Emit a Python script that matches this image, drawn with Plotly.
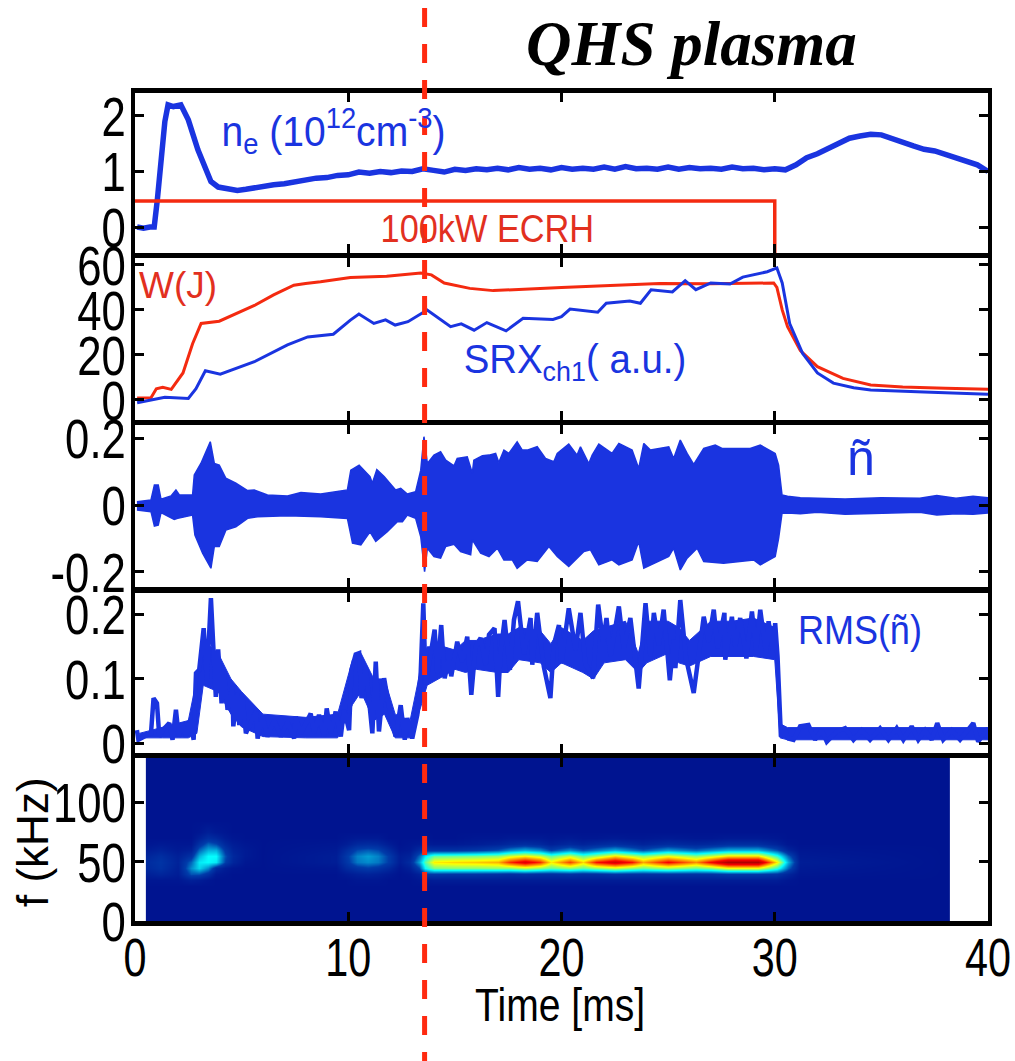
import plotly.graph_objects as go

# ---------- data ----------
ne_t = [0.1,0.4,0.7,0.9,1.05,1.2,1.4,1.55,1.8,2.15,2.5,2.95,3.25,3.56,3.9,4.35,4.8,5.2,5.6,6,6.5,7,7.5,8,8.5,9,9.5,10,10.5,11,11.5,12,12.5,13,13.5,14,14.5,15,15.5,16,16.5,17,17.5,18,18.5,19,19.5,20,20.5,21,21.5,22,22.5,23,23.5,24,24.5,25,25.5,26,26.5,27,27.5,28,28.5,29,29.5,30,30.5,31,31.5,32,32.5,33,33.5,34,34.5,35,35.3,35.8,36.5,37,37.5,38,38.5,39,39.5,40]
ne_v = [0.0,-0.02,0.0,0.0,0.5,1.2,1.9,2.2,2.17,2.2,1.93,1.39,1.08,0.82,0.72,0.68,0.66,0.68,0.71,0.73,0.76,0.78,0.82,0.84,0.88,0.89,0.93,0.94,0.99,0.97,1.0,0.98,1.01,1.0,1.05,1.02,0.99,1.04,1.02,1.05,1.03,1.06,1.03,1.07,1.04,1.06,1.03,1.07,1.04,1.06,1.04,1.08,1.04,1.09,1.05,1.06,1.04,1.08,1.04,1.07,1.05,1.06,1.04,1.08,1.05,1.06,1.03,1.05,1.03,1.12,1.25,1.32,1.42,1.52,1.6,1.64,1.67,1.66,1.62,1.53,1.46,1.4,1.37,1.31,1.25,1.2,1.12,1.0]
ecrh_t = [0, 30, 30]
ecrh_v = [0.47, 0.47, -0.47]

w_t = [0.1,0.75,1.0,1.3,1.7,2.25,2.7,3.1,3.95,4.8,5.6,6.5,7.45,8.0,8.7,10.1,11.8,13.4,13.9,14.5,15.7,16.8,18.0,20.0,22.0,24.6,27.0,29.95,30.1,30.35,30.6,31.2,32.0,33.2,34.5,36.0,38.0,40.0]
w_v = [0.9,1.0,5.0,5.6,4.7,12,25,34,35,38.5,42,46.7,51,51.8,52.5,54.4,55,56.4,55.6,52,49.6,48.6,49,50,50.8,51.8,51.6,52,50,40,32.6,22,14.8,9.6,6.7,5.8,5.2,4.8]
srx_t = [0.1,1.4,2.5,2.86,3.3,4.0,5.6,7.15,8.1,9.3,10.1,10.5,11.2,11.75,12.2,12.8,13.7,14.8,15.3,15.9,16.5,17.4,18.2,19.6,20.0,20.4,21.7,22.1,23.2,23.7,24.2,25.2,25.8,26.3,27.0,27.9,28.5,29.65,30.1,30.35,30.7,31.3,32.0,32.75,33.7,34.5,37.0,40.0]
srx_v = [-1.2,1.2,0.7,5,13,11.5,17,24.5,28,29.2,35.5,38.2,34,35.6,33.3,34.8,40,32.6,33.8,31,34.4,30.7,36.3,35.8,37,40.4,39,43,44,43,49,48,53,49,52,51.5,54.6,57,58.7,52,34,20.8,12,7.5,5.4,4.4,3.5,2.5]

nt_up_t = [0.09,0.75,0.91,1.09,1.22,1.69,1.92,2.08,2.70,2.78,3.09,3.53,3.72,3.95,4.26,4.73,5.28,5.59,6.21,7.15,7.78,8.71,9.96,10.12,10.51,11.02,11.13,11.34,11.68,12.22,12.46,12.77,13.16,13.40,13.55,13.71,14.02,14.33,14.57,14.96,15.11,15.58,15.82,15.89,16.29,16.6,16.91,17.06,17.3,17.53,17.92,18.16,18.39,18.86,19.25,19.64,19.8,20.34,20.73,20.89,21.28,21.44,21.75,22.06,22.37,22.69,23.31,23.62,23.86,24.17,25.03,25.26,25.57,25.89,26.2,26.67,27.21,27.53,27.92,28.85,29.32,30.02,30.18,30.34,30.6,31.2,32.0,33.3,35.0,36.8,37.6,38.5,39.3,40.0]
nt_up_v = [0.01,0.015,0.06,0.06,0.017,0.027,0.045,0.03,0.03,0.09,0.124,0.189,0.124,0.119,0.08,0.065,0.043,0.045,0.03,0.027,0.037,0.033,0.045,0.104,0.119,0.085,0.065,0.106,0.085,0.045,0.05,0.033,0.04,0.104,0.204,0.124,0.149,0.159,0.134,0.117,0.139,0.144,0.095,0.134,0.147,0.149,0.154,0.127,0.164,0.154,0.189,0.164,0.164,0.174,0.139,0.129,0.154,0.182,0.149,0.174,0.124,0.149,0.182,0.167,0.154,0.184,0.164,0.109,0.184,0.164,0.174,0.139,0.194,0.154,0.121,0.169,0.179,0.169,0.169,0.169,0.179,0.154,0.119,0.03,0.026,0.022,0.02,0.018,0.022,0.02,0.028,0.02,0.026,0.022]
nt_lo_t = [0.09,0.75,0.91,1.09,1.22,1.84,2.0,2.7,2.81,3.17,3.56,3.72,3.95,4.26,4.73,5.28,5.75,7.15,8.71,9.96,10.2,10.59,11.02,11.29,11.83,12.3,12.54,12.77,13.16,13.4,13.58,13.71,14.02,14.33,14.57,14.96,15.27,15.74,15.82,16.21,16.6,16.99,17.3,17.69,17.92,18.39,18.86,19.41,19.8,20.34,20.81,21.05,21.36,21.75,22.37,22.69,23.31,23.62,23.86,25.03,25.26,25.57,25.89,26.36,26.67,27.6,29.01,29.32,30.02,30.18,30.34,30.6,31.2,32.0,33.3,35.0,36.8,37.6,38.5,39.3,40.0]
nt_lo_v = [-0.015,-0.02,-0.063,-0.06,-0.023,-0.043,-0.04,-0.03,-0.09,-0.144,-0.189,-0.124,-0.124,-0.075,-0.065,-0.04,-0.035,-0.032,-0.035,-0.04,-0.114,-0.119,-0.08,-0.109,-0.08,-0.05,-0.05,-0.03,-0.04,-0.095,-0.199,-0.129,-0.154,-0.159,-0.124,-0.117,-0.139,-0.149,-0.104,-0.144,-0.154,-0.129,-0.164,-0.164,-0.189,-0.164,-0.169,-0.124,-0.154,-0.184,-0.154,-0.139,-0.134,-0.179,-0.164,-0.179,-0.164,-0.109,-0.189,-0.154,-0.129,-0.194,-0.159,-0.129,-0.169,-0.174,-0.164,-0.179,-0.154,-0.1,-0.025,-0.024,-0.026,-0.022,-0.028,-0.024,-0.022,-0.03,-0.026,-0.028,-0.024]

rms_t = [0.09,0.16,0.44,0.75,0.87,1.03,1.14,1.30,1.61,1.76,1.92,2.05,2.23,2.39,2.59,2.75,2.86,3.01,3.22,3.37,3.56,3.68,3.79,3.90,4.06,4.18,4.34,4.57,4.61,4.81,4.89,5.04,5.2,5.67,5.75,5.98,6.21,6.53,6.84,7.15,7.46,7.54,7.78,8.24,8.4,8.63,8.87,8.99,9.18,9.41,9.65,9.8,10.04,10.15,10.35,10.51,10.62,10.82,10.98,11.13,11.29,11.44,11.68,11.91,12.22,12.46,12.65,12.77,13.0,13.24,13.4,13.52,13.63,13.86,14.05,14.18,14.36,14.52,14.72,14.83,15.11,15.35,15.58,15.77,15.97,16.21,16.44,16.6,16.86,17.03,17.14,17.33,17.58,17.77,17.96,18.24,18.55,18.63,18.86,19.17,19.48,19.64,19.88,19.99,20.34,20.66,20.89,21.12,21.48,21.72,21.95,22.11,22.3,22.69,22.92,23.23,23.62,23.94,24.17,24.33,24.56,24.79,25.08,25.26,25.34,25.57,25.84,26.2,26.67,26.9,27.14,27.32,27.64,27.68,27.99,28.15,28.38,28.67,28.93,29.13,29.32,29.59,29.71,29.91,30.02,30.13,30.29,30.49,30.65,30.88,31.19,31.58,31.89,32.2,32.44,32.91,33.3,33.69,34.08,34.47,34.94,35.33,35.72,36.03,36.42,36.73,37.05,37.36,37.62,37.9,38.3,38.69,39.31,39.54,40.0]
rms_v = [0.020,0.005,0.010,0.015,0.070,0.062,0.010,0.020,0.031,0.005,0.052,0.010,0.031,0.010,0.036,0.005,0.109,0.114,0.179,0.098,0.226,0.140,0.072,0.146,0.062,0.109,0.052,0.088,0.026,0.078,0.028,0.072,0.015,0.049,0.007,0.041,0.010,0.036,0.010,0.033,0.007,0.041,0.015,0.046,0.015,0.044,0.010,0.054,0.015,0.049,0.010,0.052,0.020,0.114,0.138,0.140,0.070,0.119,0.072,0.015,0.127,0.018,0.101,0.057,0.010,0.059,0.005,0.039,0.007,0.044,0.111,0.218,0.091,0.140,0.177,0.109,0.184,0.101,0.132,0.104,0.158,0.127,0.166,0.075,0.151,0.164,0.122,0.169,0.179,0.072,0.140,0.192,0.114,0.192,0.221,0.138,0.195,0.122,0.203,0.119,0.070,0.153,0.184,0.124,0.210,0.145,0.203,0.124,0.101,0.216,0.158,0.195,0.135,0.213,0.148,0.195,0.085,0.218,0.135,0.203,0.153,0.208,0.098,0.161,0.117,0.223,0.132,0.078,0.197,0.158,0.208,0.148,0.203,0.130,0.197,0.151,0.195,0.132,0.205,0.145,0.208,0.140,0.190,0.145,0.187,0.135,0.010,0.020,0.007,0.005,0.026,0.028,0.005,0.020,0.002,0.018,0.023,0.005,0.020,0.005,0.023,0.005,0.023,0.005,0.026,0.005,0.020,0.005,0.031,0.005,0.020,0.005,0.031,0.002,0.023]
# solid core of the RMS trace, where its rapid swings merge
core_t = [0.2,1.3,2.5,2.9,3.2,3.9,4.5,5.0,6.0,8.0,9.5,10.2,10.6,11.2,11.7,12.2,12.9,13.3,13.7,14.5,15.0,15.5,16,17,17.5,18,19,19.5,20,21,21.5,22,23,23.6,24,25,25.5,26,27,28,29,30,30.25,30.6,33,36,40]
core_hi = [.015,.025,.035,.10,.16,.14,.10,.08,.045,.04,.045,.13,.14,.10,.10,.045,.035,.10,.15,.15,.145,.16,.16,.17,.17,.18,.175,.155,.18,.16,.175,.18,.19,.14,.19,.19,.18,.16,.19,.19,.195,.18,.03,.024,.024,.024,.024]
core_lo = [.008,.008,.008,.015,.09,.08,.045,.025,.01,.008,.008,.06,.08,.035,.045,.008,.008,.045,.09,.105,.115,.11,.115,.11,.11,.13,.125,.11,.125,.11,.10,.125,.13,.11,.125,.14,.125,.12,.135,.135,.135,.13,.008,.005,.005,.005,.005]

spec_t = [0.54,0.6,1.2,2.0,2.6,3.0,3.4,3.8,4.2,4.6,5.2,6,9.4,9.9,10.4,10.9,11.4,11.9,12.4,12.9,13.3,13.6,14,15,16,17,17.6,18.3,19,19.5,20.4,21,21.6,22.5,23.3,23.8,25,26.3,27,27.8,29.2,30.1,30.6,31.2,37.9,38.1]
spec_f = [0,30,35,40,45,50,55,60,65,70,75,85,140]
spec_z = [
 [.04,.04,.04,.04,.04,.04,.04,.04,.04,.04,.04,.04,.04,.04,.04,.04,.04,.04,.04,.04,.04,.04,.04,.04,.04,.04,.04,.04,.04,.04,.04,.04,.04,.04,.04,.04,.04,.04,.04,.04,.04,.04,.04,.04,.04,.04],
 [.04,.04,.04,.04,.04,.04,.04,.04,.04,.04,.04,.04,.04,.04,.04,.04,.04,.04,.04,.04,.04,.04,.04,.04,.04,.04,.04,.04,.04,.04,.04,.04,.04,.04,.04,.04,.04,.04,.04,.04,.04,.04,.04,.04,.04,.04],
 [.05,.05,.05,.05,.08,.07,.05,.04,.04,.04,.04,.04,.04,.04,.05,.05,.05,.04,.04,.04,.05,.06,.07,.07,.07,.07,.07,.07,.07,.07,.07,.07,.07,.07,.07,.07,.07,.07,.07,.07,.07,.07,.05,.04,.04,.04],
 [.08,.08,.10,.07,.20,.20,.14,.06,.05,.04,.04,.04,.04,.06,.08,.09,.08,.06,.04,.05,.08,.16,.16,.15,.15,.14,.13,.14,.13,.13,.14,.13,.13,.15,.14,.14,.14,.14,.14,.16,.16,.15,.10,.05,.04,.04],
 [.11,.11,.14,.08,.26,.34,.26,.12,.07,.05,.04,.04,.05,.11,.15,.17,.15,.11,.05,.08,.18,.38,.48,.49,.49,.50,.50,.54,.50,.46,.50,.46,.50,.55,.50,.47,.52,.47,.50,.58,.58,.42,.22,.06,.04,.04],
 [.12,.12,.15,.09,.22,.36,.38,.36,.18,.10,.05,.04,.07,.15,.24,.26,.24,.17,.07,.12,.28,.45,.60,.62,.63,.65,.76,.84,.76,.60,.74,.62,.78,.86,.78,.66,.80,.68,.80,.92,.92,.60,.30,.07,.04,.04],
 [.10,.10,.13,.08,.14,.30,.38,.38,.20,.11,.06,.04,.07,.16,.25,.28,.25,.17,.07,.09,.22,.36,.46,.47,.48,.50,.56,.60,.55,.46,.55,.46,.52,.62,.55,.50,.58,.50,.55,.62,.62,.42,.22,.06,.04,.04],
 [.07,.07,.09,.06,.08,.22,.30,.30,.16,.09,.06,.04,.06,.12,.19,.21,.19,.12,.05,.06,.12,.15,.14,.14,.16,.20,.26,.30,.26,.18,.26,.20,.24,.30,.24,.20,.28,.22,.26,.30,.30,.20,.10,.05,.04,.04],
 [.05,.05,.06,.05,.05,.14,.22,.19,.11,.07,.05,.04,.05,.07,.11,.12,.11,.07,.04,.05,.06,.07,.06,.06,.07,.09,.11,.13,.11,.08,.11,.09,.11,.13,.11,.09,.12,.10,.11,.13,.13,.09,.05,.04,.04,.04],
 [.04,.04,.04,.04,.04,.08,.13,.11,.07,.05,.04,.04,.04,.05,.06,.06,.06,.04,.04,.04,.04,.05,.04,.04,.05,.05,.06,.06,.06,.05,.06,.05,.05,.06,.05,.05,.06,.05,.05,.06,.06,.05,.04,.04,.04,.04],
 [.04,.04,.04,.04,.04,.05,.08,.06,.05,.04,.04,.04,.04,.04,.04,.04,.04,.04,.04,.04,.04,.04,.04,.04,.04,.04,.04,.04,.04,.04,.04,.04,.04,.04,.04,.04,.04,.04,.04,.04,.04,.04,.04,.04,.04,.04],
 [.04,.04,.04,.04,.04,.04,.04,.04,.04,.04,.04,.04,.04,.04,.04,.04,.04,.04,.04,.04,.04,.04,.04,.04,.04,.04,.04,.04,.04,.04,.04,.04,.04,.04,.04,.04,.04,.04,.04,.04,.04,.04,.04,.04,.04,.04],
 [.04,.04,.04,.04,.04,.04,.04,.04,.04,.04,.04,.04,.04,.04,.04,.04,.04,.04,.04,.04,.04,.04,.04,.04,.04,.04,.04,.04,.04,.04,.04,.04,.04,.04,.04,.04,.04,.04,.04,.04,.04,.04,.04,.04,.04,.04],
]
assert all(len(r) == len(spec_t) for r in spec_z) and len(spec_z) == len(spec_f)
assert len(rms_t) == len(rms_v) and len(ne_t) == len(ne_v)
assert len(core_t) == len(core_hi) == len(core_lo)

x_ticks = [0, 10, 20, 30, 40]
marker_t = 13.58

# ---------- styling ----------
W, H = 1015, 1061
BLUE = "#1a34e0"
RED = "#f42a10"
LABEL_RED = "#e2301f"
SANS = "Liberation Sans, Arial, sans-serif"
SERIF = "Liberation Serif, Times New Roman, serif"
L, R = 135, 988

panels = [
    (93, 253, [-0.468, 2.414], [0, 1, 2], ["0", "1", "2"]),
    (258, 420, [-8.9, 63.1], [0, 20, 40, 60], ["0", "20", "40", "60"]),
    (425, 587, [-0.245, 0.239], [-0.2, 0, 0.2], ["-0.2", "0", "0.2"]),
    (593, 753, [-0.0156, 0.234], [0, 0.1, 0.2], ["0", "0.1", "0.2"]),
    (758, 921, [0, 138], [0, 50, 100], ["0", "50", "100"]),
]

fig = go.Figure()

def add(trace, i):
    s = "" if i == 0 else str(i + 1)
    trace.update(xaxis="x" + s, yaxis="y" + s, showlegend=False, hoverinfo="skip")
    fig.add_trace(trace)

add(go.Scatter(x=ne_t, y=ne_v, mode="lines", line=dict(color=BLUE, width=5.5)), 0)
add(go.Scatter(x=ecrh_t, y=ecrh_v, mode="lines", line=dict(color=RED, width=3.5)), 0)
add(go.Scatter(x=w_t, y=w_v, mode="lines", line=dict(color=RED, width=3)), 1)
add(go.Scatter(x=srx_t, y=srx_v, mode="lines", line=dict(color=BLUE, width=3)), 1)
add(go.Scatter(x=nt_up_t + nt_lo_t[::-1], y=nt_up_v + nt_lo_v[::-1], mode="lines",
               fill="toself", fillcolor=BLUE, line=dict(color=BLUE, width=1.5)), 2)
add(go.Scatter(x=core_t + core_t[::-1], y=core_hi + core_lo[::-1], mode="lines", fill="toself",
               fillcolor=BLUE, line=dict(color=BLUE, width=1)), 3)
add(go.Scatter(x=rms_t, y=rms_v, mode="lines", line=dict(color=BLUE, width=4.5)), 3)
add(go.Heatmap(x=spec_t, y=spec_f, z=spec_z, colorscale="Jet", zmin=-0.03, zmax=1,
               zsmooth="best", showscale=False), 4)

layout = dict(
    width=W, height=H, margin=dict(l=0, r=0, t=0, b=0, autoexpand=False),
    paper_bgcolor="white", plot_bgcolor="white", showlegend=False,
)
for i, (top, bottom, yr, yt, yl) in enumerate(panels):
    s = "" if i == 0 else str(i + 1)
    last = i == len(panels) - 1
    layout["xaxis" + s] = dict(
        domain=[L / W, R / W], range=[0, 40], anchor="y" + s,
        tickmode="array", tickvals=x_ticks, ticktext=[str(v) for v in x_ticks],
        showticklabels=last, ticks="inside", ticklen=9, tickwidth=3, tickcolor="black",
        showline=True, linewidth=5, linecolor="black", mirror="allticks", showgrid=False, zeroline=False,
        tickfont=dict(family=SANS, size=53, color="black"), ticklabelstandoff=-14,
        ticklabeloverflow="allow",
    )
    layout["yaxis" + s] = dict(
        domain=[1 - bottom / H, 1 - top / H], range=yr, anchor="x" + s,
        tickmode="array", tickvals=yt, ticktext=yl,
        ticks="inside", ticklen=9, tickwidth=3, tickcolor="black",
        showline=True, linewidth=4, linecolor="black", mirror="allticks", showgrid=False, zeroline=False,
        tickfont=dict(family=SANS, size=56, color="black"), ticklabelstandoff=-6,
        ticklabeloverflow="allow",
    )

def label(text, x, y, size, color, family=SANS, anchor="center", angle=0):
    return dict(text=text, x=x / W, y=1 - y / H, xref="paper", yref="paper", showarrow=False,
                xanchor=anchor, yanchor="middle", textangle=angle,
                font=dict(family=family, size=size, color=color))

layout["annotations"] = [
    label("<b><i>QHS plasma</i></b>", 691, 44, 63, "black", SERIF),
    label("n<sub>e</sub> (10<sup>12</sup>cm<sup>-3</sup>)", 333, 130, 42, BLUE),
    label("100kW ECRH", 487, 229, 39, LABEL_RED),
    label("W(J)", 178, 285, 37, LABEL_RED),
    label("SRX<sub>ch1</sub>( a.u.)", 575, 362, 40, BLUE),
    label("ñ", 861, 458, 50, BLUE),
    label("RMS(ñ)", 860, 630, 40, BLUE),
    label("f (kHz)", 32, 842, 44, "black", SANS, "center", -90),
    label("Time [ms]", 560, 1005, 46, "black"),
]
layout["shapes"] = [dict(
    type="line", xref="x", yref="paper", x0=marker_t, x1=marker_t, y0=1 - 8 / H, y1=0,
    line=dict(color="#ff2a10", width=5, dash="19px,17px"),
)]
fig.update_layout(**layout)

# the reference's lettering is condensed and no narrow face is installed: squeeze the real text horizontally
squeeze = """
document.body.style.margin='0';document.body.style.overflow='hidden';
function squeeze(el, k){
  var n = el.getComputedTextLength();
  el.setAttribute('lengthAdjust','spacingAndGlyphs');
  el.setAttribute('textLength', (n*k).toFixed(1));
}
document.querySelectorAll('.xaxislayer-above text, .yaxislayer-above text').forEach(function(t){ squeeze(t, 0.78); });
document.querySelectorAll('.annotation-text').forEach(function(t){
  var s = t.textContent;
  if (s.indexOf('ECRH')>=0) squeeze(t, 0.88);
  if (s.indexOf('Time')>=0) squeeze(t, 0.85);
  if (s.indexOf('RMS')>=0) squeeze(t, 0.9);
  if (s.indexOf('cm')>=0) squeeze(t, 0.93);
  if (s.indexOf('SRX')>=0) squeeze(t, 0.96);
});
"""
fig.write_html("out.html", config=dict(displayModeBar=False), post_script=squeeze)
